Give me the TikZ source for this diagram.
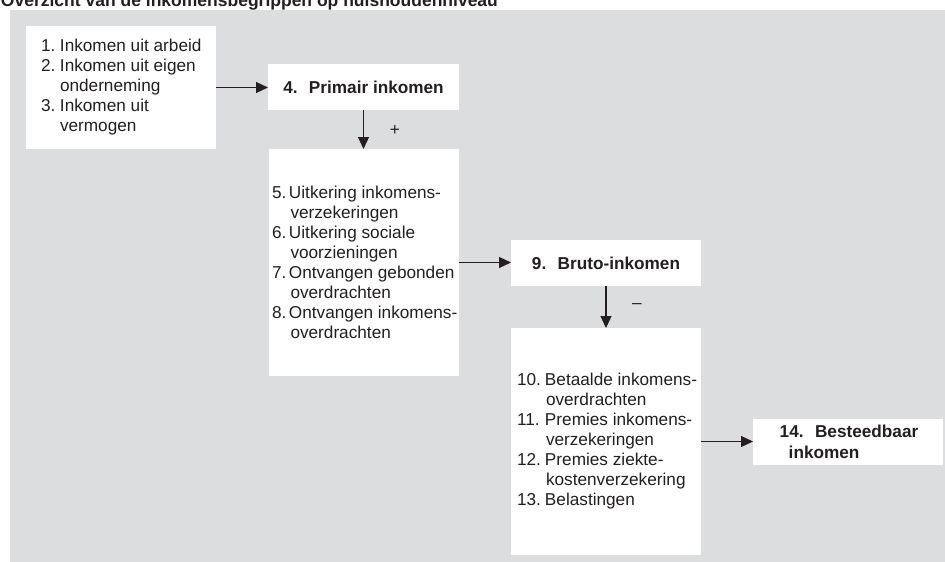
\documentclass[tikz,border=0pt]{standalone}
\usepackage{fontspec}
\setmainfont{Liberation Sans}
\usetikzlibrary{arrows.meta}
\definecolor{panelgray}{RGB}{220,221,223}
\definecolor{ink}{RGB}{35,31,32}
\newcommand{\itemno}[2]{\makebox[#1][l]{#2}}
\begin{document}
\begin{tikzpicture}[x=1pt,y=-1pt,
  every node/.style={text=ink, inner sep=0pt, outer sep=0pt},
  whitebox/.style={fill=white, draw=none, minimum width=190pt},
  body/.style={align=left, font=\fontsize{17.2}{20}\selectfont},
  headline/.style={font=\bfseries\fontsize{17.2}{21}\selectfont},
  flow/.style={draw=ink, line width=1.2pt, -{Triangle[length=12pt,width=11pt]}}]
\useasboundingbox (0,0) rectangle (945,562);
\clip (0,0) rectangle (945,562);

% title (its top runs past the page edge) and grey panel
\node[anchor=base west, font=\bfseries\fontsize{17.5}{20}\selectfont] (title) at (1,6.5)
  {Overzicht van de inkomensbegrippen op huishoudenniveau};
\fill[panelgray] (10,10) rectangle (950,570);

% boxes
\node[whitebox, minimum height=123pt] (bA) at (121,87.5) {};
\node[whitebox, minimum width=191pt, minimum height=46pt, headline] (b4) at (363.5,87)
  {4.\hspace{5pt} Primair inkomen};
\node[whitebox, minimum height=227pt] (bB) at (364,262.5) {};
\node[whitebox, minimum height=46pt, headline] (b9) at (606,263)
  {9.\hspace{5pt} Bruto-inkomen};
\node[whitebox, minimum height=227pt] (bC) at (606,441.5) {};
\node[whitebox, minimum height=46pt] (b14) at (848,442) {};

% box contents
\node[body, anchor=west] (tA) at ([xshift=15pt]bA.west)
  {\itemno{19pt}{1.}Inkomen uit arbeid\\
   \itemno{19pt}{2.}Inkomen uit eigen\\
   \itemno{19pt}{}onderneming\\
   \itemno{19pt}{3.}Inkomen uit\\
   \itemno{19pt}{}vermogen};
\node[body, anchor=west] (tB) at ([xshift=3pt]bB.west)
  {\itemno{17pt}{5.}Uitkering inkomens-\\
   \itemno{18.5pt}{}verzekeringen\\
   \itemno{17pt}{6.}Uitkering sociale\\
   \itemno{18.5pt}{}voorzieningen\\
   \itemno{17pt}{7.}Ontvangen gebonden\\
   \itemno{18.5pt}{}overdrachten\\
   \itemno{17pt}{8.}Ontvangen inkomens-\\
   \itemno{18.5pt}{}overdrachten};
\node[body, anchor=west] (tC) at ([xshift=6pt]bC.west)
  {\itemno{28pt}{10.}Betaalde inkomens-\\
   \itemno{29pt}{}overdrachten\\
   \itemno{28pt}{11.}Premies inkomens-\\
   \itemno{29pt}{}verzekeringen\\
   \itemno{28pt}{12.}Premies ziekte-\\
   \itemno{29pt}{}kostenverzekering\\
   \itemno{28pt}{13.}Belastingen};
\node[headline, align=left] (t14) at (849,442)
  {14.\hspace{5pt} Besteedbaar\\\hspace*{9pt}inkomen};

% connectors
\draw[flow] (bA.east) -- (bA.east -| b4.west);
\draw[flow] (b4.south) -- (b4.south |- bB.north);
\draw[flow] (bB.east) -- (bB.east -| b9.west);
\draw[flow] (b9.south) -- (b9.south |- bC.north);
\draw[flow] (bC.east) -- (bC.east -| b14.west);

% signs beside the downward arrows
\node[body] (plus) at (395,131) {+};
\node[body] (minus) at (637,306) {–};
\end{tikzpicture}
\end{document}
